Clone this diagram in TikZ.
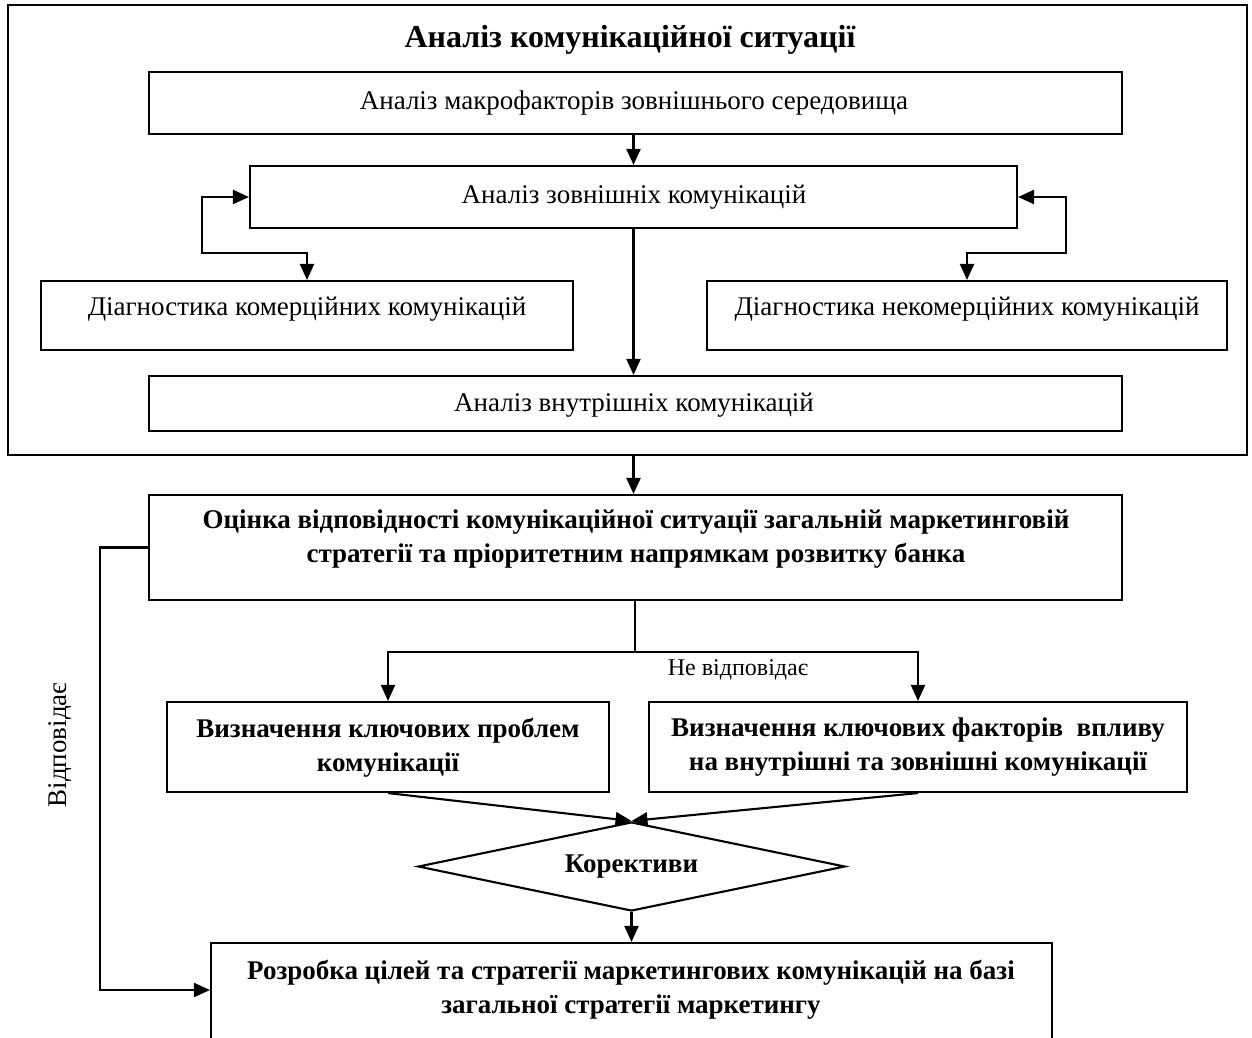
\documentclass[tikz,border=0pt]{standalone}
\usepackage{fontspec}
\setmainfont{Liberation Serif}
\usetikzlibrary{arrows.meta,shapes.geometric}
\begin{document}
\begin{tikzpicture}[x=1pt,y=-1pt,line width=2.1pt,
  >={Triangle[length=16pt,width=14pt]},
  box/.style={draw=black,rectangle,inner sep=0pt},
  lbl/.style={inner sep=0pt,align=center,font=\fontsize{27}{34}\selectfont},
  blbl/.style={inner sep=0pt,align=center,font=\fontsize{27}{34}\selectfont\bfseries}]
\fill[white] (0,0) rectangle (1252,1037);
\useasboundingbox (0,0) rectangle (1252,1037);

% boxes
\node[box,line width=1.8pt,minimum width=1239pt,minimum height=450pt] (outer) at (627.5,230) {};
\node[box,minimum width=973pt,minimum height=62pt] (b1) at (635.5,103) {};
\node[box,minimum width=767pt,minimum height=62pt] (b2) at (633.5,197) {};
\node[box,minimum width=532pt,minimum height=69pt] (dl) at (307,315.5) {};
\node[box,minimum width=520pt,minimum height=69pt] (dr) at (967,315.5) {};
\node[box,minimum width=973pt,minimum height=55pt] (bi) at (635.5,403.5) {};
\node[box,minimum width=973pt,minimum height=105pt] (oc) at (635.5,547.5) {};
\node[box,minimum width=442pt,minimum height=90pt] (vl) at (388,747) {};
\node[box,minimum width=538pt,minimum height=90pt] (vr) at (918,747) {};
\node[draw=black,diamond,aspect=4.8,inner sep=0pt,minimum width=427pt,minimum height=89pt,
      font=\fontsize{27}{34}\selectfont\bfseries] (kor) at (631.5,866.5) {Корективи};
\node[box,minimum width=841pt,minimum height=114pt] (rz) at (631.5,1000) {};

% texts
\node[blbl,font=\fontsize{32}{38}\selectfont\bfseries] (title) at (630,40) {Аналіз комунікаційної ситуації};
\node[lbl] (t1) at (634,103) {Аналіз макрофакторів зовнішнього середовища};
\node[lbl] (t2) at (634,197) {Аналіз зовнішніх комунікацій};
\node[lbl] (tdl) at (307,309) {Діагностика комерційних комунікацій};
\node[lbl] (tdr) at (967,309) {Діагностика некомерційних комунікацій};
\node[lbl] (ti) at (634,405) {Аналіз внутрішніх комунікацій};
\node[blbl] (toc) at (636,539) {Оцінка відповідності комунікаційної ситуації загальній маркетинговій\\стратегії та пріоритетним напрямкам розвитку банка};
\node[blbl] (tvl) at (388,747.5) {Визначення ключових проблем\\комунікації};
\node[blbl] (tvr) at (918,747.5) {Визначення ключових факторів\ \ впливу\\на внутрішні та зовнішні комунікації};
\node[blbl] (trz) at (631,990) {Розробка цілей та стратегії маркетингових комунікацій на базі\\загальної стратегії маркетингу};
\node[lbl,font=\fontsize{24}{28}\selectfont] (ne) at (738,670) {Не відповідає};
\node[lbl,rotate=90] (vid) at (60,745) {Відповідає};

% connectors
\draw[->] (b1.south -| b2.north) -- (b2.north);
\draw[<->] (b2.west) -- ++(-47,0) |- ([yshift=27pt]dl.north) -- (dl.north);
\draw[<->] (b2.east) -- ++(48,0) |- ([yshift=27pt]dr.north) -- (dr.north);
\draw[->] (b2.south) -- (b2.south |- bi.north);
\draw[->] (b2.south |- outer.south) -- (b2.south |- oc.north);
\coordinate (br) at (635,652);
\draw (oc.south -| br) -- (br);
\draw[->] (br) -| (vl.north);
\draw[->] (br) -| (vr.north);
\draw[->] (vl.south) -- (kor.north);
\draw[->] (vr.south) -- (kor.north);
\draw[->] (kor.south) -- (kor.south |- rz.north);
\draw[->] (oc.west) -- ++(-48,0) |- ([yshift=10pt]rz.west);
\end{tikzpicture}
\end{document}
